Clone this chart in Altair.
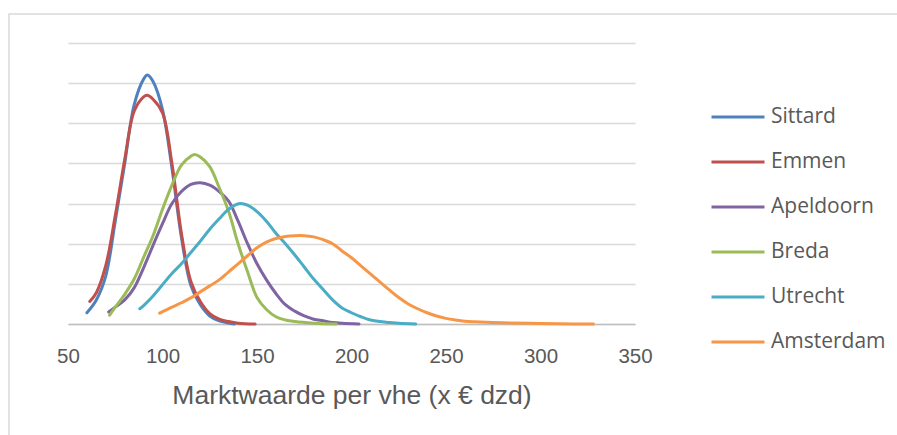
import altair as alt
import pandas as pd

# Series order and Office-style colours
steden = ["Sittard", "Emmen", "Apeldoorn", "Breda", "Utrecht", "Amsterdam"]
kleuren = ["#4F81BD", "#C0504D", "#8064A2", "#9BBB59", "#4BACC6", "#F79646"]

# Market value per dwelling (x EUR 1000) and density (per mille)
sittard_x = [60, 65, 70, 75, 80, 85, 90, 92, 95, 100, 105, 110, 115, 120, 125, 130, 138]
sittard_y = [1.4, 3.0, 6.0, 12.8, 20.0, 27.3, 30.5, 31.0, 30.2, 26.7, 19.4, 10.8, 4.8, 2.4, 1.0, 0.4, 0.0]

emmen_x = [61.5, 65, 70, 75, 80, 85, 90, 92, 95, 100, 105, 110, 115, 120, 125, 130, 135, 140, 149]
emmen_y = [2.8, 3.9, 7.3, 13.5, 20.5, 26.5, 28.3, 28.5, 28.0, 26.3, 20.0, 11.3, 5.3, 2.8, 1.3, 0.6, 0.3, 0.1, 0.0]

apeldoorn_x = [71.5, 75, 80, 85, 90, 95, 100, 105, 110, 115, 120, 125, 130, 135, 140, 145,
               150, 155, 160, 165, 170, 175, 180, 185, 190, 195, 204]
apeldoorn_y = [1.5, 2.1, 3.0, 4.5, 7.0, 9.8, 12.5, 15.0, 16.5, 17.4, 17.6, 17.3, 16.5, 15.3, 12.8, 10.0,
               7.5, 5.5, 3.8, 2.4, 1.6, 1.0, 0.6, 0.4, 0.2, 0.1, 0.0]

breda_x = [72, 75, 80, 85, 90, 95, 100, 105, 110, 115, 117, 120, 125, 130, 135, 140, 145, 150,
           155, 160, 165, 170, 180, 192]
breda_y = [1.1, 2.1, 3.7, 5.6, 8.3, 11.0, 14.3, 17.3, 19.8, 20.9, 21.1, 20.8, 19.6, 17.0, 14.0, 10.0, 6.5, 3.3,
           1.8, 0.9, 0.5, 0.3, 0.1, 0.0]

utrecht_x = [88, 90, 95, 100, 105, 110, 115, 120, 125, 130, 135, 141, 145, 150, 155, 160, 165, 170,
             175, 180, 185, 190, 195, 200, 205, 210, 215, 220, 225, 234]
utrecht_y = [1.9, 2.3, 3.5, 4.9, 6.3, 7.5, 8.9, 10.3, 11.8, 13.1, 14.3, 15.0, 14.8, 14.0, 12.8, 11.3, 10.0, 8.6,
             7.1, 5.6, 4.3, 3.0, 2.0, 1.4, 0.9, 0.5, 0.3, 0.2, 0.1, 0.0]

amsterdam_x = [98.5, 105, 110, 115, 120, 125, 130, 135, 140, 145, 150, 155, 160, 165, 170, 175, 180, 185,
               190, 195, 200, 205, 210, 215, 220, 225, 230, 235, 240, 245, 250, 255, 260, 265, 280, 295,
               310, 328]
amsterdam_y = [1.35, 2.1, 2.65, 3.25, 4.0, 4.75, 5.5, 6.5, 7.5, 8.5, 9.5, 10.2, 10.65, 10.9, 11.0, 11.0, 10.85,
               10.5, 10.0, 9.1, 8.25, 7.25, 6.25, 5.25, 4.25, 3.3, 2.5, 1.9, 1.4, 1.0, 0.7, 0.5, 0.35, 0.28,
               0.15, 0.08, 0.03, 0.0]

x_ticks = [50, 100, 150, 200, 250, 300, 350]
y_grid = [0, 5, 10, 15, 20, 25, 30, 35]

reeksen = [
    ("Sittard", sittard_x, sittard_y),
    ("Emmen", emmen_x, emmen_y),
    ("Apeldoorn", apeldoorn_x, apeldoorn_y),
    ("Breda", breda_x, breda_y),
    ("Utrecht", utrecht_x, utrecht_y),
    ("Amsterdam", amsterdam_x, amsterdam_y),
]
rows = []
for stad, xs, ys in reeksen:
    for i, (x, y) in enumerate(zip(xs, ys)):
        rows.append({"stad": stad, "waarde": x, "dichtheid": y, "volgorde": i})
df = pd.DataFrame(rows)

tekst = "#595959"

lines = alt.Chart(df).mark_line(
    strokeWidth=3, interpolate="catmull-rom", strokeCap="round", strokeJoin="round"
).encode(
    x=alt.X(
        "waarde:Q",
        scale=alt.Scale(domain=[50, 350], nice=False, zero=False),
        axis=alt.Axis(
            values=x_ticks, title="Marktwaarde per vhe (x € dzd)", grid=False, ticks=False,
            labelFlush=False, labelOverlap=False,
            domainColor="#BFBFBF", domainWidth=1.5,
            labelFont="Liberation Sans", labelFontSize=20.5, labelColor=tekst, labelPadding=22,
            titleFont="Liberation Sans", titleFontSize=26.5, titleFontWeight="normal", titleColor=tekst,
            titleX=283.5, titleY=79, titleBaseline="alphabetic", titleAlign="center",
        ),
    ),
    y=alt.Y(
        "dichtheid:Q",
        scale=alt.Scale(domain=[0, 35], nice=False),
        axis=alt.Axis(values=y_grid, labels=False, ticks=False, domain=False, title=None,
                      gridColor="#D9D9D9", gridWidth=1.5),
    ),
    color=alt.Color(
        "stad:N",
        scale=alt.Scale(domain=steden, range=kleuren),
        sort=steden,
        legend=alt.Legend(
            title=None, orient="none", legendX=642, legendY=51.5,
            symbolType="stroke", symbolSize=2809, symbolStrokeWidth=3,
            labelFont="Open Sans", labelFontSize=21, labelColor=tekst, labelOffset=5,
            clipHeight=45, rowPadding=0, labelLimit=0,
        ),
    ),
    order="volgorde:Q",
)

frame = alt.Chart(pd.DataFrame({"k": [0]})).mark_rect(
    fillOpacity=0, stroke="#D9D9D9", strokeWidth=1.5, clip=False
).encode(x=alt.value(-59), x2=alt.value(900), y=alt.value(-29), y2=alt.value(500))

chart = alt.layer(frame, lines).properties(
    width=567, height=281,
    padding={"left": 68, "top": 43, "right": 262, "bottom": 111},
    autosize=alt.AutoSizeParams(type="none"),
    background="white",
).configure_view(stroke=None)

chart.save("out.html", embed_options={"renderer": "svg", "actions": False})
